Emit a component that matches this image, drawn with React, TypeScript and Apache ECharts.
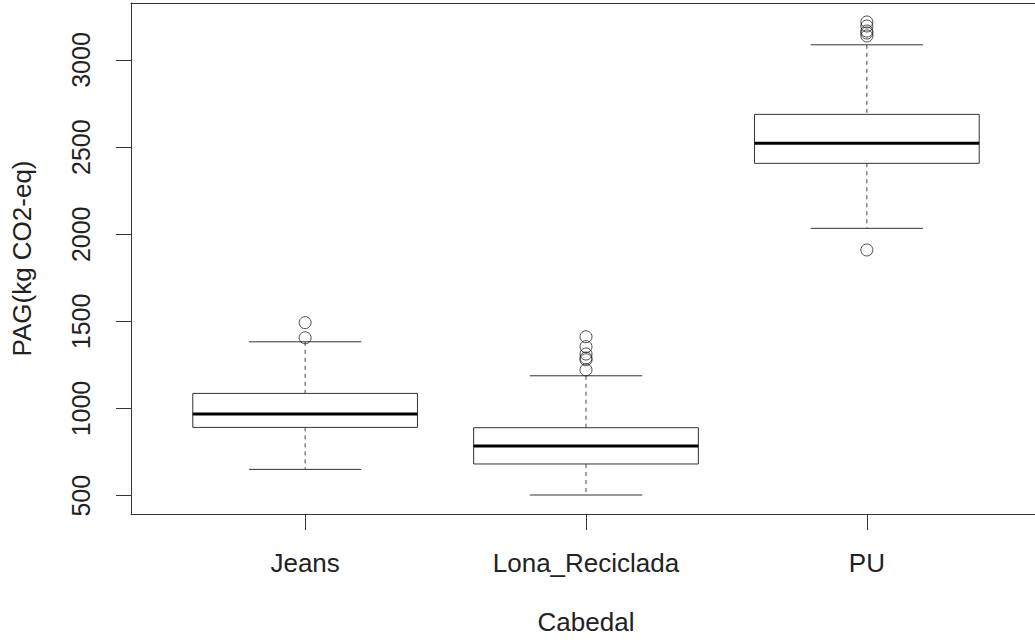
import React, { useEffect, useRef } from "react";
import * as echarts from "echarts";

const categories = ["Jeans", "Lona_Reciclada", "PU"];
// [lowerWhisker, Q1, median, Q3, upperWhisker]
const boxStats = [
  [651, 892, 969, 1087, 1383],
  [504, 682, 785, 890, 1188],
  [2034, 2407, 2522, 2688, 3087],
];
const outliersJeans = [1493, 1406];
const outliersLona = [1412, 1355, 1313, 1290, 1280, 1222];
const outliersPU = [3218, 3195, 3166, 3155, 3138, 1910];
const yTicks = [500, 1000, 1500, 2000, 2500, 3000];

const FONT = "'Liberation Sans', Arial, Helvetica, sans-serif";
const LINE = "#333";

export default function App() {
  const ref = useRef<HTMLDivElement>(null);
  useEffect(() => {
    if (!ref.current) return;
    const chart = echarts.init(ref.current, undefined, { renderer: "svg" });
    const boxData = boxStats.map((s, i) => [i + 1, ...s]);
    const outlierData: number[][] = [];
    [outliersJeans, outliersLona, outliersPU].forEach((arr, i) =>
      arr.forEach((v) => outlierData.push([i + 1, v]))
    );
    chart.setOption({
      animation: false,
      backgroundColor: "#fff",
      grid: {
        left: 131,
        top: 3,
        width: 910,
        height: 511,
        show: false,
      },
      xAxis: [
        {
          type: "value",
          min: 0.38,
          max: 3.62,
          name: "Cabedal",
          nameLocation: "middle",
          nameGap: 95,
          nameTextStyle: { fontSize: 26, color: "#222", fontFamily: FONT },
          axisLine: { show: true, onZero: false, lineStyle: { color: LINE, width: 1 } },
          splitLine: { show: false },
          axisTick: {
            show: true,
            length: 16,
            customValues: [1, 2, 3],
            lineStyle: { color: LINE },
          },
          axisLabel: {
            customValues: [1, 2, 3],
            margin: 36,
            fontSize: 26,
            color: "#222",
            fontFamily: FONT,
            formatter: (v: number) => categories[Math.round(v) - 1] ?? "",
          },
        },
        {
          type: "value",
          position: "top",
          min: 0.38,
          max: 3.62,
          axisLine: { show: true, onZero: false, lineStyle: { color: LINE, width: 1 } },
          axisTick: { show: false },
          axisLabel: { show: false },
          splitLine: { show: false },
        },
      ],
      yAxis: {
        type: "value",
        min: 395,
        max: 3327,
        name: "PAG(kg CO2-eq)",
        nameLocation: "middle",
        nameGap: 96,
        nameRotate: 90,
        nameTextStyle: { fontSize: 26, color: "#222", fontFamily: FONT },
        axisLine: { show: true, onZero: false, lineStyle: { color: LINE, width: 1 } },
        splitLine: { show: false },
        axisTick: {
          show: true,
          length: 15,
          customValues: yTicks,
          lineStyle: { color: LINE },
        },
        axisLabel: {
          customValues: yTicks,
          rotate: 90,
          margin: 38,
          fontSize: 25,
          color: "#222",
          fontFamily: FONT,
          formatter: (v: number) => String(v),
        },
      },
      series: [
        {
          type: "custom",
          data: boxData,
          encode: { x: 0, y: [1, 2, 3, 4, 5] },
          renderItem: (params: any, api: any) => {
            const x = api.value(0);
            const lo = api.value(1);
            const q1 = api.value(2);
            const med = api.value(3);
            const q3 = api.value(4);
            const hi = api.value(5);
            const pTL = api.coord([x - 0.4, q3]);
            const pBR = api.coord([x + 0.4, q1]);
            const pMedL = api.coord([x - 0.4, med]);
            const pMedR = api.coord([x + 0.4, med]);
            const pHi = api.coord([x, hi]);
            const pLo = api.coord([x, lo]);
            const pQ3 = api.coord([x, q3]);
            const pQ1 = api.coord([x, q1]);
            const capL = api.coord([x - 0.2, hi]);
            const capR = api.coord([x + 0.2, hi]);
            const capL2 = api.coord([x - 0.2, lo]);
            const capR2 = api.coord([x + 0.2, lo]);
            const thin = { stroke: LINE, lineWidth: 1 };
            const dashed = { stroke: "#444", lineWidth: 1, lineDash: [4, 4] };
            return {
              type: "group",
              children: [
                {
                  type: "line",
                  shape: { x1: pHi[0], y1: pHi[1], x2: pQ3[0], y2: pQ3[1] },
                  style: dashed,
                },
                {
                  type: "line",
                  shape: { x1: pQ1[0], y1: pQ1[1], x2: pLo[0], y2: pLo[1] },
                  style: dashed,
                },
                {
                  type: "line",
                  shape: { x1: capL[0], y1: capL[1], x2: capR[0], y2: capR[1] },
                  style: thin,
                },
                {
                  type: "line",
                  shape: { x1: capL2[0], y1: capL2[1], x2: capR2[0], y2: capR2[1] },
                  style: thin,
                },
                {
                  type: "rect",
                  shape: {
                    x: pTL[0],
                    y: pTL[1],
                    width: pBR[0] - pTL[0],
                    height: pBR[1] - pTL[1],
                  },
                  style: { fill: "#fff", stroke: LINE, lineWidth: 1 },
                },
                {
                  type: "line",
                  shape: { x1: pMedL[0], y1: pMedL[1], x2: pMedR[0], y2: pMedR[1] },
                  style: { stroke: "#000", lineWidth: 3 },
                },
              ],
            };
          },
        },
        {
          type: "scatter",
          data: outlierData,
          symbol: "circle",
          symbolSize: 12,
          itemStyle: {
            color: "rgba(0,0,0,0)",
            borderColor: "#222",
            borderWidth: 1,
          },
        },
      ],
    });
    return () => chart.dispose();
  }, []);
  return (
    <div
      style={{
        position: "fixed",
        left: 0,
        top: 0,
        width: 1035,
        height: 642,
        overflow: "hidden",
        background: "#fff",
      }}
    >
      <div ref={ref} style={{ width: 1050, height: 642 }} />
    </div>
  );
}
